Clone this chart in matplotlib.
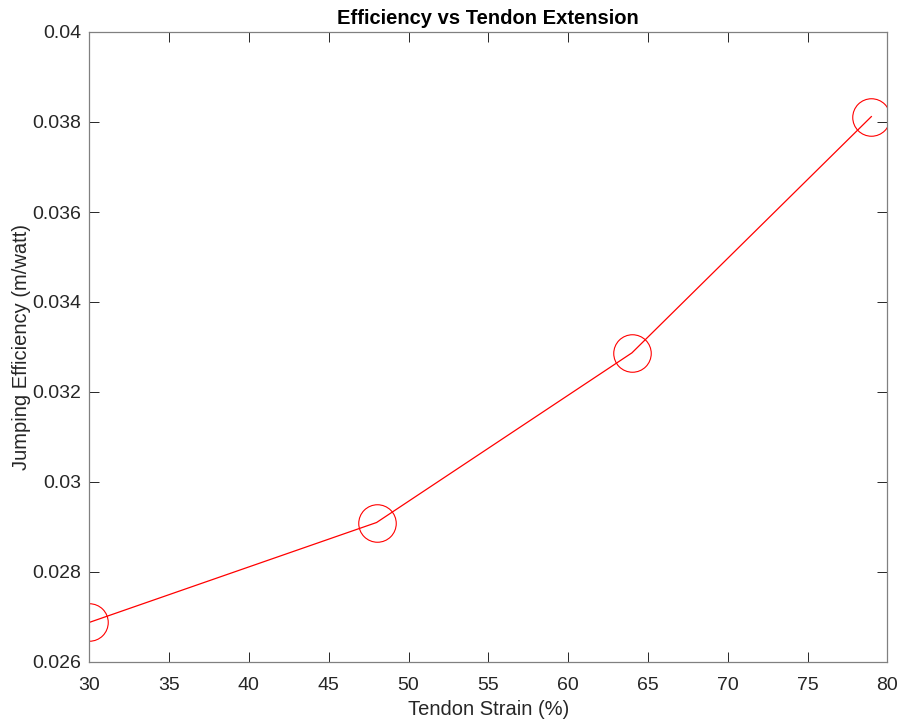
import matplotlib
matplotlib.use("Agg")
import matplotlib.pyplot as plt

strain = [30, 48, 64, 79]
efficiency = [0.02688, 0.02910, 0.03287, 0.03812]
xticks = [30, 35, 40, 45, 50, 55, 60, 65, 70, 75, 80]
yticks = [0.026, 0.028, 0.03, 0.032, 0.034, 0.036, 0.038, 0.04]
ytick_labels = ["0.026", "0.028", "0.03", "0.032", "0.034", "0.036", "0.038", "0.04"]

plt.rcParams['font.family'] = ['Liberation Sans', 'DejaVu Sans']

fig = plt.figure(figsize=(9.01, 7.19), dpi=100)
ax = fig.add_axes([89.3/901, 1-662/719, (887.3-89.3)/901, (662-32)/719])

ax.plot(strain, efficiency, color='red', lw=0.9, marker='o', ms=27,
        mfc='none', mec='red', mew=0.8)

ax.set_xlim(30, 80)
ax.set_ylim(0.026, 0.04)
ax.set_xticks(xticks)
ax.set_yticks(yticks)
ax.set_yticklabels(ytick_labels)
ax.tick_params(direction='in', top=True, right=True, labelsize=14, colors='#262626',
               length=7, width=0.7)
ax.tick_params(axis='x', pad=11)
ax.tick_params(axis='y', pad=6)
for s in ax.spines.values():
    s.set_color('#808080')
    s.set_linewidth(0.9)

ax.set_xlabel('Tendon Strain (%)', fontsize=14.5, color='#262626', labelpad=4)
ax.set_ylabel('Jumping Efficiency (m/watt)', fontsize=14.5, color='#262626', labelpad=1)
ax.set_title('Efficiency vs Tendon Extension', fontsize=14.5, fontweight='bold', pad=6)

fig.savefig('out.png', dpi=100)
